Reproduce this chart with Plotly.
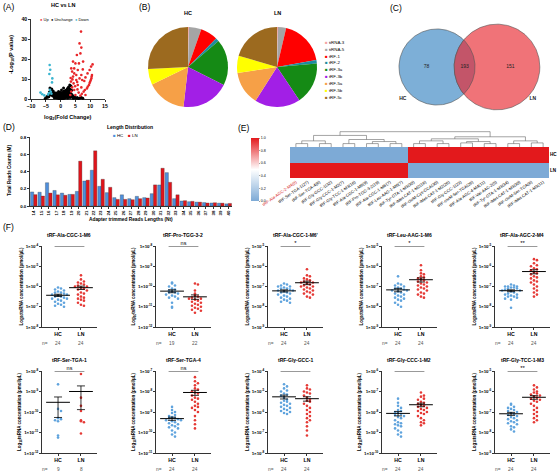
import numpy as np
import plotly.graph_objects as go

W, H = 560, 473
FONT = "Liberation Sans, Arial, sans-serif"

# ---------------- (A) volcano data ----------------
up_x = [6.9,6.4,7.0,6.7,5.5,4.2,5.0,6.2,7.6,3.6,4.6,3.9,5.8,7.5,9.8,10.3,10.8,9.1,8.4,7.3,6.4,5.3,4.2,3.5,4.4,5.8,7.0,3.9,3.6,4.6,6.1,7.8,8.9,9.6,10.0,10.4,10.6,5.0,6.7,8.4,3.3,5.3,4.6,8.2,9.2,9.8,10.2,10.5,8.0,7.0,5.6,4.0,3.4,7.2,5.7,4.9]
up_y = [33.7,27.8,25.7,22.8,22.0,18.7,17.8,17.8,18.7,15.3,15.3,13.7,14.5,14.8,14.5,16.2,17.3,12.8,10.8,9.5,10.3,9.5,11.2,8.7,7.8,7.0,5.8,5.8,3.7,4.5,3.2,3.7,5.3,7.0,8.7,10.3,12.0,2.0,1.7,2.0,2.0,12.0,12.8,4.5,6.2,8.0,9.5,11.2,9.0,12.0,8.5,9.8,10.5,2.6,4.8,6.4]
down_x = [-3.7,-3.5,-3.8,-2.8,-2.9,-6.8,-6.2,-3.6,-3.9,-3.3,-4.2,-3.1,-5.5]
down_y = [17.0,14.6,12.5,10.3,8.3,3.2,2.4,4.6,3.0,3.6,2.2,2.6,1.8]
un_x = [-5.2,-4.8,-4.5,-4.2,-4.0,-3.8,-3.6,-3.4,-3.2,-3.0,-2.8,-2.6,-2.4,-2.2,-2.0,-1.8,-1.6,-1.5,-1.3,-1.2,-1.0,-0.9,-0.8,-0.6,-0.5,-0.4,-0.3,-0.2,-0.1,0.0,0.1,0.2,0.3,0.4,0.5,0.6,0.7,0.8,0.9,1.0,1.1,1.2,1.3,1.4,1.5,1.6,1.7,1.8,1.9,2.0,2.1,2.2,2.3,2.4,2.5,2.6,2.7,2.8,2.9,3.0,3.1,3.2,3.3,3.4,3.5,3.6,3.8,4.0,4.2,4.5,4.8,5.2,5.6,6.0,6.5,7.0,7.5,-1.4,-2.5,-0.7,0.3,1.0,-3.0,
        -2.7,-2.3,-1.9,-1.7,-1.1,-0.75,-0.45,-0.15,0.15,0.45,0.75,1.05,1.35,1.65,1.95,2.25,2.55,2.85,-3.5,-3.3,-2.9,-2.1,-1.5,-0.9,-0.3,0.35,0.95,1.55,2.15,2.75,3.2,3.7,4.3,-4.4,-4.0,-3.7,-2.0,0.0,0.6,1.2]
un_y = [0.3,0.8,1.2,1.6,2.2,3.5,5.5,4.2,3.0,2.4,1.9,1.5,2.8,1.2,1.8,0.9,1.4,0.6,1.1,2.2,0.5,1.6,0.9,0.3,1.2,2.6,0.7,0.2,1.5,0.4,3.2,0.9,0.2,1.8,0.6,2.4,1.1,0.3,1.5,0.8,2.9,0.4,1.9,1.0,3.6,0.6,2.2,1.4,4.4,0.9,2.8,1.7,5.2,0.5,3.4,2.0,6.0,1.2,4.0,2.6,7.0,0.8,4.8,3.0,6.5,1.6,2.2,0.9,1.5,0.6,1.0,0.4,0.7,0.3,0.5,0.8,0.4,3.0,4.0,3.8,4.5,5.5,5.0,
        3.3,2.3,2.6,1.9,1.5,2.0,1.8,2.4,2.0,2.7,1.7,3.5,2.6,4.1,3.0,3.9,2.6,5.2,2.8,2.0,3.6,0.6,2.4,2.8,3.4,1.2,2.2,1.4,4.6,3.6,2.0,4.4,0.4,0.9,1.1,2.6,3.1,2.8,3.3,4.0]

# ---------------- (B) pie data ----------------
pie_labels = ["tiRNA-3", "tiRNA-5", "tRF-1", "tRF-2", "tRF-3a", "tRF-3b", "tRF-5a", "tRF-5b", "tRF-5c"]
pie_colors = ["#F4A3A3", "#A5A5A5", "#FF0000", "#1E8C9E", "#158A15", "#A21FE6", "#F6A047", "#FFFF00", "#9C6A1F"]
pie_hc = [0.4, 5.0, 7.0, 1.4, 18.6, 19.4, 16.0, 6.4, 25.8]
pie_ln = [0.4, 3.3, 18.6, 1.4, 17.0, 18.5, 13.6, 7.0, 20.5]

# ---------------- (C) venn data ----------------
venn_only_hc = 78
venn_both = 193
venn_only_ln = 151

# ---------------- (D) length distribution ----------------
len_cats = ["14","15","16","17","18","19","20","21","22","23","24","25","26","27","28","29","30","31","32","33","34","35","36","37","38","39","40"]
len_hc = [0.163,0.16,0.27,0.18,0.15,0.135,0.17,0.29,0.415,0.228,0.155,0.097,0.13,0.085,0.112,0.097,0.143,0.244,0.387,0.085,0.058,0.05,0.045,0.04,0.035,0.033,0.025]
len_ln = [0.132,0.116,0.15,0.13,0.125,0.135,0.52,0.30,0.64,0.31,0.217,0.077,0.077,0.073,0.085,0.093,0.245,0.438,0.275,0.13,0.062,0.054,0.045,0.035,0.038,0.033,0.03]

# ---------------- (E) heatmap ----------------
heat_labels = ["tRF-Ala-AGC-2-M4(0)", "tRF-Ser-TGA-1(27)", "tRF-Ser-TGA-4(8)", "tRF-Gly-GCC-1(32)",
               "tRF-Gly-CCC-1-M2(7)", "tRF-Gly-TCC-1-M3(16)", "tRF-Ala-CGC-1-M6(9)", "tRF-Pro-TGG-3-2(19)",
               "tRF-Ala-CGC-1-M6'(7)", "tRF-Leu-AAG-1-M6(7)", "tRF-Tyr-GTA-1-M3(30)", "tRF-iMet-CAT-1-M2(18)",
               "tRF-chrM-Cys-GCA(30)", "tRF-iMet-CAT-1-M2(26)", "tRF-Gly-CCC-1(23)", "tRF-chrM-Ser-TGA(26)",
               "tRF-Ala-AGC-4-M4(11)", "tRF-Val-AAC-2(5)", "tRF-Tyr-GTA-1-M3(34)", "tRF-iMet-CAT-1-M3(30)",
               "tRF-chrM-Ser-TGA(8)", "tRF-iMet-CAT-1-M3(11)"]
heat_hc = [0,0,0,0,0,0,0,0,0,0,1,1,1,1,1,1,1,1,1,1,1,1]
heat_ln = [1,1,1,1,1,1,1,1,1,1,0,0,0,0,0,0,0,0,0,0,0,0]
heat_rows = ["HC", "LN"]
# dendrogram merges (node a, node b, height); new nodes numbered from 22
dendro_merges = [(0,1,1.0),(2,3,1.0),(22,23,1.8),(4,5,1.0),(6,7,1.0),(8,9,1.0),(26,27,1.6),(25,28,2.2),(24,29,3.4),
                 (10,11,1.0),(12,13,1.0),(31,32,1.8),(14,15,1.2),(16,17,1.0),(34,35,1.6),(18,19,1.0),(20,21,1.2),
                 (37,38,1.8),(33,36,2.4),(40,39,3.0),(30,41,4.5)]

# ---------------- (F) qPCR validation (log10 concentration) ----------------
F_titles = ["tRF-Ala-CGC-1-M6", "tRF-Pro-TGG-3-2", "tRF-Ala-CGC-1-M6'", "tRF-Leu-AAG-1-M6", "tRF-Ala-AGC-2-M4",
            "tRF-Ser-TGA-1", "tRF-Ser-TGA-4", "tRF-Gly-GCC-1", "tRF-Gly-CCC-1-M2", "tRF-Gly-TCC-1-M3"]
F_sig = ["*", "ns", "*", "*", "**", "ns", "ns", "ns", "*", "**"]
F_top = [-4, -8, -5, -5, -5, -8, -7, -4, -6, -5]
F1_hc = [-6.05,-6.1,-6.15,-6.2,-6.25,-6.3,-6.3,-6.35,-6.4,-6.4,-6.45,-6.5,-6.5,-6.55,-6.6,-6.6,-6.65,-6.7,-6.75,-6.8,-6.85,-6.9,-6.95,-7.0]
F1_ln = [-5.45,-5.65,-5.75,-5.8,-5.85,-5.9,-5.95,-6.0,-6.0,-6.05,-6.1,-6.15,-6.2,-6.3,-6.35,-6.4,-6.5,-6.55,-6.6,-6.65,-6.7,-6.8,-6.9,-6.95]
F2_hc = [-9.8,-9.85,-9.95,-10.0,-10.1,-10.15,-10.2,-10.25,-10.3,-10.3,-10.35,-10.4,-10.45,-10.5,-10.55,-10.6,-10.8,-11.0,-11.05]
F2_ln = [-9.85,-9.9,-10.2,-10.35,-10.45,-10.5,-10.55,-10.6,-10.6,-10.65,-10.7,-10.75,-10.8,-10.85,-10.9,-10.95,-11.0,-11.05,-11.1,-11.15,-11.2,-11.3]
F3_hc = [-6.85,-6.9,-6.95,-7.0,-7.0,-7.05,-7.1,-7.1,-7.15,-7.2,-7.2,-7.25,-7.3,-7.3,-7.35,-7.4,-7.45,-7.5,-7.55,-7.6,-7.65,-7.7,-7.75,-7.8]
F3_ln = [-6.15,-6.45,-6.5,-6.6,-6.65,-6.7,-6.75,-6.8,-6.8,-6.85,-6.9,-6.95,-7.0,-7.0,-7.05,-7.1,-7.15,-7.2,-7.25,-7.3,-7.35,-7.4,-7.5,-7.55]
F4_hc = [-6.5,-6.85,-6.9,-6.95,-7.0,-7.05,-7.1,-7.1,-7.15,-7.2,-7.2,-7.25,-7.3,-7.35,-7.4,-7.45,-7.5,-7.55,-7.6,-7.65,-7.7,-7.8,-7.9,-8.0]
F4_ln = [-5.95,-6.2,-6.35,-6.4,-6.5,-6.55,-6.6,-6.65,-6.7,-6.75,-6.8,-6.85,-6.9,-6.95,-7.0,-7.05,-7.1,-7.15,-7.2,-7.3,-7.35,-7.4,-7.5,-7.55]
F5_hc = [-6.9,-6.95,-7.0,-7.0,-7.0,-7.05,-7.05,-7.1,-7.1,-7.15,-7.2,-7.2,-7.25,-7.3,-7.35,-7.4,-7.4,-7.45,-7.5,-7.5,-7.55,-7.6,-7.65,-8.05]
F5_ln = [-5.65,-5.7,-5.85,-5.95,-6.0,-6.1,-6.15,-6.2,-6.3,-6.35,-6.4,-6.5,-6.55,-6.6,-6.7,-6.75,-6.8,-6.9,-7.0,-7.1,-7.2,-7.3,-7.4,-7.5]
F6_hc = [-8.65,-9.85,-9.95,-10.3,-10.35,-10.4,-10.45,-11.15,-11.25]
F6_ln = [-8.15,-9.3,-9.7,-9.95,-10.4,-10.45,-10.5,-11.05]
F7_hc = [-8.75,-8.9,-9.0,-9.05,-9.15,-9.2,-9.25,-9.3,-9.3,-9.35,-9.4,-9.4,-9.45,-9.5,-9.55,-9.6,-9.65,-9.7,-9.75,-9.8,-9.9,-10.0,-10.1,-10.2]
F7_ln = [-7.3,-7.5,-7.6,-7.7,-7.85,-7.9,-8.0,-8.05,-8.1,-8.2,-8.3,-8.35,-8.4,-8.5,-8.6,-8.7,-8.75,-8.8,-8.9,-9.0,-9.2,-9.4,-9.6,-9.8]
F8_hc = [-4.65,-4.75,-4.85,-4.95,-5.0,-5.1,-5.15,-5.2,-5.3,-5.4,-5.45,-5.5,-5.55,-5.6,-5.65,-5.7,-5.75,-5.8,-5.85,-5.9,-5.95,-6.0,-6.05,-6.1]
F8_ln = [-4.7,-4.85,-4.9,-5.0,-5.05,-5.1,-5.2,-5.3,-5.4,-5.45,-5.5,-5.6,-5.7,-5.8,-5.9,-6.0,-6.1,-6.2,-6.3,-6.4,-6.5,-6.7,-6.9,-7.15]
F9_hc = [-7.35,-7.55,-7.7,-7.8,-7.9,-7.95,-8.0,-8.05,-8.1,-8.15,-8.2,-8.25,-8.3,-8.4,-8.5,-8.55,-8.6,-8.65,-8.7,-8.8,-8.9,-9.0,-9.1,-9.2]
F9_ln = [-7.05,-7.2,-7.25,-7.35,-7.4,-7.5,-7.55,-7.6,-7.65,-7.7,-7.75,-7.8,-7.85,-7.9,-7.95,-8.0,-8.05,-8.1,-8.2,-8.3,-8.4,-8.5,-8.55,-8.65]
F10_hc = [-6.6,-6.65,-6.75,-6.8,-6.85,-6.9,-6.95,-7.0,-7.05,-7.1,-7.15,-7.2,-7.25,-7.3,-7.35,-7.4,-7.45,-7.5,-7.55,-7.6,-7.7,-7.75,-7.85,-7.95]
F10_ln = [-5.7,-5.8,-5.9,-6.0,-6.05,-6.1,-6.15,-6.2,-6.25,-6.3,-6.35,-6.4,-6.45,-6.5,-6.6,-6.7,-6.8,-6.9,-7.0,-7.1,-7.2,-7.3,-7.4,-7.5]
F_hc = [F1_hc, F2_hc, F3_hc, F4_hc, F5_hc, F6_hc, F7_hc, F8_hc, F9_hc, F10_hc]
F_ln = [F1_ln, F2_ln, F3_ln, F4_ln, F5_ln, F6_ln, F7_ln, F8_ln, F9_ln, F10_ln]

# ---------------- helpers ----------------
fig = go.Figure()
layout = dict(template="none", width=W, height=H, margin=dict(l=0, r=0, t=0, b=0, pad=0),
              paper_bgcolor="white", plot_bgcolor="rgba(0,0,0,0)", showlegend=False,
              font=dict(family=FONT, size=5, color="black"))
ann = []


def X(p):
    return p / W


def Y(p):
    return 1 - p / H


def note(x, y, s, size=5, bold=False, color="black", xa="center", ya="middle", angle=0):
    ann.append(dict(x=X(x), y=Y(y), xref="paper", yref="paper", text=s, showarrow=False,
                    font=dict(family=FONT, size=size, color=color, weight="bold" if bold else "normal"),
                    xanchor=xa, yanchor=ya, textangle=angle, borderpad=0))


def axes(n, x0, x1, y0, y1, xa, ya):
    sx = "" if n == 1 else str(n)
    xa = dict(xa)
    ya = dict(ya)
    xa.update(domain=[X(x0), X(x1)], anchor="y" + sx, automargin=False)
    ya.update(domain=[Y(y1), Y(y0)], anchor="x" + sx, automargin=False)
    layout["xaxis" + sx] = xa
    layout["yaxis" + sx] = ya
    return "x" + sx, "y" + sx


def tf(size=5, bold=True, color="black"):
    return dict(family=FONT, size=size, color=color, weight="bold" if bold else "normal")


def base(**kw):
    d = dict(showgrid=False, zeroline=False, showline=True, linecolor="black", linewidth=0.8,
             ticks="outside", ticklen=2, tickwidth=0.8, tickcolor="black", tickfont=tf(5))
    d.update(kw)
    return d


def hidden(**kw):
    d = dict(visible=False, showgrid=False, zeroline=False, fixedrange=True)
    d.update(kw)
    return d


def swarm(vals, center, bin_w=0.2, step=0.13):
    vals = np.asarray(vals, dtype=float)
    order = np.argsort(-vals)
    xs = np.zeros(len(vals))
    counts = {}
    for idx in order:
        b = int(np.floor(vals[idx] / bin_w))
        k = counts.get(b, 0)
        counts[b] = k + 1
        off = ((k + 1) // 2) * step * (1 if k % 2 else -1)
        xs[idx] = center + off
    return xs


# ---------------- (A) volcano ----------------
xr, yr = axes(1, 31, 105, 19, 99,
              base(range=[-10, 15], tickvals=[-10, -5, 0, 5, 10, 15], tickfont=tf(5.2)),
              base(range=[0, 40], tickvals=[0, 10, 20, 30, 40], tickfont=tf(5.2)))
for xs_, ys_, col, sz in [(un_x, un_y, "black", 3.0), (up_x, up_y, "#E8262A", 2.6), (down_x, down_y, "#3AB5D0", 2.6)]:
    fig.add_trace(go.Scatter(x=xs_, y=ys_, mode="markers", marker=dict(size=sz, color=col),
                             xaxis=xr, yaxis=yr, cliponaxis=False, hoverinfo="skip"))
note(63, 5, "HC vs LN", 5.5, True)
note(12, 55, "-Log<sub>10</sub>(P value)", 5.5, True, angle=-90)
note(68, 117, "log<sub>2</sub>(Fold Change)", 5.5, True)
note(39, 19.5, "<span style='color:#E8262A'>●</span> Up  <span style='color:black'>●</span> Unchange  "
               "<span style='color:#3AB5D0'>●</span> Down", 4.0, False, xa="left")

# ---------------- (B) pies ----------------
for vals, cx, title in [(pie_hc, 188, "HC"), (pie_ln, 277, "LN")]:
    r = 40
    fig.add_trace(go.Pie(values=vals, labels=pie_labels, marker=dict(colors=pie_colors, line=dict(width=0)),
                         sort=False, direction="clockwise", rotation=0, textinfo="none", hoverinfo="skip",
                         domain=dict(x=[X(cx - r), X(cx + r)], y=[Y(67 + r), Y(67 - r)]), showlegend=False))
    note(cx, 13, title, 5.5, True)
for i, (lab, col) in enumerate(zip(pie_labels, pie_colors)):
    note(324, 42.3 + 6.9 * i, f"<span style='color:{col}'>■</span> {lab}", 4.4, False, xa="left")

# ---------------- (C) venn ----------------
xr5, yr5 = axes(5, 380, 560, 5, 125, hidden(range=[0, 180]), hidden(range=[0, 120]))
k = 2.31
rA = k * np.sqrt(venn_only_hc + venn_both)
rB = k * np.sqrt(venn_only_ln + venn_both)
cxA, cyA, dAB = 57.0, 58.0, 60.0
cxB = cxA + dAB
t = np.linspace(0, 2 * np.pi, 200)
fig.add_trace(go.Scatter(x=cxA + rA * np.cos(t), y=cyA + rA * np.sin(t), mode="lines", fill="toself",
                         fillcolor="#7DAFD7", line=dict(color="#555555", width=0.6), xaxis=xr5, yaxis=yr5,
                         hoverinfo="skip"))
fig.add_trace(go.Scatter(x=cxB + rB * np.cos(t), y=cyA + rB * np.sin(t), mode="lines", fill="toself",
                         fillcolor="#F07378", line=dict(color="#555555", width=0.6), xaxis=xr5, yaxis=yr5,
                         hoverinfo="skip"))
xi = (dAB ** 2 + rA ** 2 - rB ** 2) / (2 * dAB)
yi = np.sqrt(rA ** 2 - xi ** 2)
thA = np.arctan2(yi, xi)
thB = np.arctan2(yi, xi - dAB)
ta = np.linspace(-thA, thA, 80)
tb = np.linspace(thB, 2 * np.pi - thB, 80)
lx = np.concatenate([cxA + rA * np.cos(ta), cxB + rB * np.cos(tb)])
ly = np.concatenate([cyA + rA * np.sin(ta), cyA + rB * np.sin(tb)])
fig.add_trace(go.Scatter(x=lx, y=ly, mode="lines", fill="toself", fillcolor="#C35569",
                         line=dict(color="#555555", width=0.6), xaxis=xr5, yaxis=yr5, hoverinfo="skip"))
txt_x = [((cxA - rA) + (cxB - rB)) / 2, ((cxB - rB) + (cxA + rA)) / 2, ((cxA + rA) + (cxB + rB)) / 2 + 3,
         cxA + 1.23 * rA * np.cos(np.radians(223)), cxB + 1.12 * rB * np.cos(np.radians(-41.6))]
txt_y = [cyA, cyA, cyA, cyA + 1.23 * rA * np.sin(np.radians(223)), cyA + 1.12 * rB * np.sin(np.radians(-41.6))]
txt_s = [str(venn_only_hc), str(venn_both), str(venn_only_ln), "<b>HC</b>", "<b>LN</b>"]
fig.add_trace(go.Scatter(x=txt_x, y=txt_y, mode="text", text=txt_s, textfont=dict(family=FONT, size=5, color="#222"),
                         xaxis=xr5, yaxis=yr5, hoverinfo="skip", cliponaxis=False))

# ---------------- (D) bars ----------------
xr4, yr4 = axes(4, 30, 232, 137, 206,
                base(type="category", range=[-0.5, 26.5], tickangle=-90, tickfont=tf(4.4)),
                base(range=[0, 0.8], tickvals=[0, 0.2, 0.4, 0.6, 0.8],
                     ticktext=["0.0", "0.2", "0.4", "0.6", "0.8"], tickfont=tf(4.4)))
fig.add_trace(go.Bar(x=len_cats, y=len_hc, marker=dict(color="#4E8FDC", line=dict(color="#333", width=0.3)),
                     xaxis=xr4, yaxis=yr4, offsetgroup="hc", hoverinfo="skip"))
fig.add_trace(go.Bar(x=len_cats, y=len_ln, marker=dict(color="#E0141B", line=dict(color="#333", width=0.3)),
                     xaxis=xr4, yaxis=yr4, offsetgroup="ln", hoverinfo="skip"))
layout.update(barmode="group", bargap=0.12, bargroupgap=0)
note(130, 127, "Length Distribution", 5, True)
note(125, 136, "<span style='color:#4E8FDC'>■</span> HC    <span style='color:#E0141B'>■</span> LN", 4.4)
note(9, 171, "Total Reads Counts (M)", 4.6, True, angle=-90)
note(131, 220, "Adapter trimmed Reads Lengths (Nt)", 4.8, True)

# ---------------- (E) heatmap + dendrogram ----------------
ncol = len(heat_labels)
xr3, yr3 = axes(3, 290, 549, 147, 178,
                dict(range=[-0.5, ncol - 0.5], tickvals=list(range(ncol)),
                     ticktext=[("<span style='color:#D62728'>%s</span>" % s) if i == 0 else s
                               for i, s in enumerate(heat_labels)],
                     tickangle=-35, showline=False, ticks="", showgrid=False, zeroline=False,
                     tickfont=tf(4.2, False)),
                dict(side="right", autorange="reversed", ticks="", showline=False, showgrid=False,
                     zeroline=False, tickfont=tf(4.6)))
fig.add_trace(go.Heatmap(z=[heat_hc, heat_ln], x=list(range(ncol)), y=heat_rows, xaxis=xr3, yaxis=yr3,
                         zmin=0, zmax=1, hoverinfo="skip",
                         colorscale=[[0, "#7DAAD6"], [0.5, "#FFFFFF"], [1, "#E3191C"]],
                         colorbar=dict(x=X(251), xanchor="left", y=Y(138), yanchor="top", len=63 / H,
                                       lenmode="fraction", thickness=8, thicknessmode="pixels", xpad=0, ypad=0,
                                       outlinewidth=0, tickvals=[0, 0.2, 0.4, 0.6, 0.8, 1.0],
                                       ticktext=["0.0", "0.2", "0.4", "0.6", "0.8", "1.0"],
                                       tickfont=dict(family=FONT, size=3.6, color="black"),
                                       ticks="outside", ticklen=1.5, tickwidth=0.5)))
xr2, yr2 = axes(2, 290, 549, 131, 147, hidden(range=[-0.5, ncol - 0.5]), hidden(range=[0, 4.7]))
node_x = list(range(ncol))
node_h = [0.0] * ncol
dx, dy = [], []
for a, b, h in dendro_merges:
    xa_, ha_, xb_, hb_ = node_x[a], node_h[a], node_x[b], node_h[b]
    dx += [xa_, xa_, xb_, xb_, None]
    dy += [ha_, h, h, hb_, None]
    node_x.append((xa_ + xb_) / 2)
    node_h.append(h)
fig.add_trace(go.Scatter(x=dx, y=dy, mode="lines", line=dict(color="#666666", width=0.6),
                         xaxis=xr2, yaxis=yr2, hoverinfo="skip", cliponaxis=False))

# ---------------- (F) dot plots ----------------
C_HC, C_LN = "#5FA3DD", "#E53935"
colx = [42, 156, 268, 382, 495]
rows = [(246, 327), (371, 453)]
for i in range(10):
    r, c = divmod(i, 5)
    x0 = colx[c]
    yt, yb = rows[r]
    top = F_top[i]
    exps = [top - j for j in range(5)]
    xr_, yr_ = axes(6 + i, x0, x0 + 55, yt, yb,
                    base(range=[-0.7, 1.7], tickvals=[0, 1], ticktext=["HC", "LN"], tickfont=tf(5.2)),
                    base(type="log", range=[top - 4, top], tickvals=[10.0 ** e for e in exps],
                         ticktext=["1×10<sup>%d</sup>" % e for e in exps], tickfont=tf(4.4),
                         title=dict(text="Log<sub>10</sub>tsRNA concentration (pmol/μL)",
                                    font=tf(4.5), standoff=2)))
    means, sems = [], []
    for g, (vals, col) in enumerate([(F_hc[i], C_HC), (F_ln[i], C_LN)]):
        v = np.array(vals, dtype=float)
        fig.add_trace(go.Scatter(x=swarm(v, g), y=10.0 ** v, mode="markers",
                                 marker=dict(size=2.6, color=col), xaxis=xr_, yaxis=yr_,
                                 cliponaxis=False, hoverinfo="skip"))
        lin = 10.0 ** v
        means.append(lin.mean())
        sems.append(lin.std(ddof=1) / np.sqrt(len(lin)))
    fig.add_trace(go.Scatter(x=[0, 1], y=means, mode="markers",
                             marker=dict(symbol="line-ew", size=17, line=dict(width=1, color="black")),
                             error_y=dict(type="data", array=sems, visible=True, thickness=0.8, width=4,
                                          color="black"),
                             xaxis=xr_, yaxis=yr_, cliponaxis=False, hoverinfo="skip"))
    fig.add_trace(go.Scatter(x=[-0.15, 1.15], y=[10.0 ** top] * 2, mode="lines",
                             line=dict(color="black", width=0.8), xaxis=xr_, yaxis=yr_,
                             cliponaxis=False, hoverinfo="skip"))
    fig.add_trace(go.Scatter(x=[0.5], y=[10.0 ** top], mode="text", text=[F_sig[i]],
                             textposition="top center",
                             textfont=dict(family=FONT, size=6 if "*" in F_sig[i] else 5.5, color="black"),
                             xaxis=xr_, yaxis=yr_, cliponaxis=False, hoverinfo="skip"))
    note(x0 + 27, yt - 11, F_titles[i], 5, True)
    note(x0 + 3, yb + 16, "n=", 4.8, False, color="#555")
    note(x0 + 16, yb + 16, str(len(F_hc[i])), 4.8, False, color="#555")
    note(x0 + 39, yb + 16, str(len(F_ln[i])), 4.8, False, color="#555")

# ---------------- panel letters ----------------
for lab, x, y in [("(A)", 2, 7), ("(B)", 138, 7), ("(C)", 389, 8), ("(D)", 2, 127), ("(E)", 237, 128), ("(F)", 2, 227)]:
    note(x, y, lab, 8.5, False, xa="left")

layout["annotations"] = ann
fig.update_layout(**layout)
fig.write_html("out.html", config={"displayModeBar": False, "staticPlot": True},
               post_script="document.body.style.margin='0px';document.body.style.overflow='hidden';")
